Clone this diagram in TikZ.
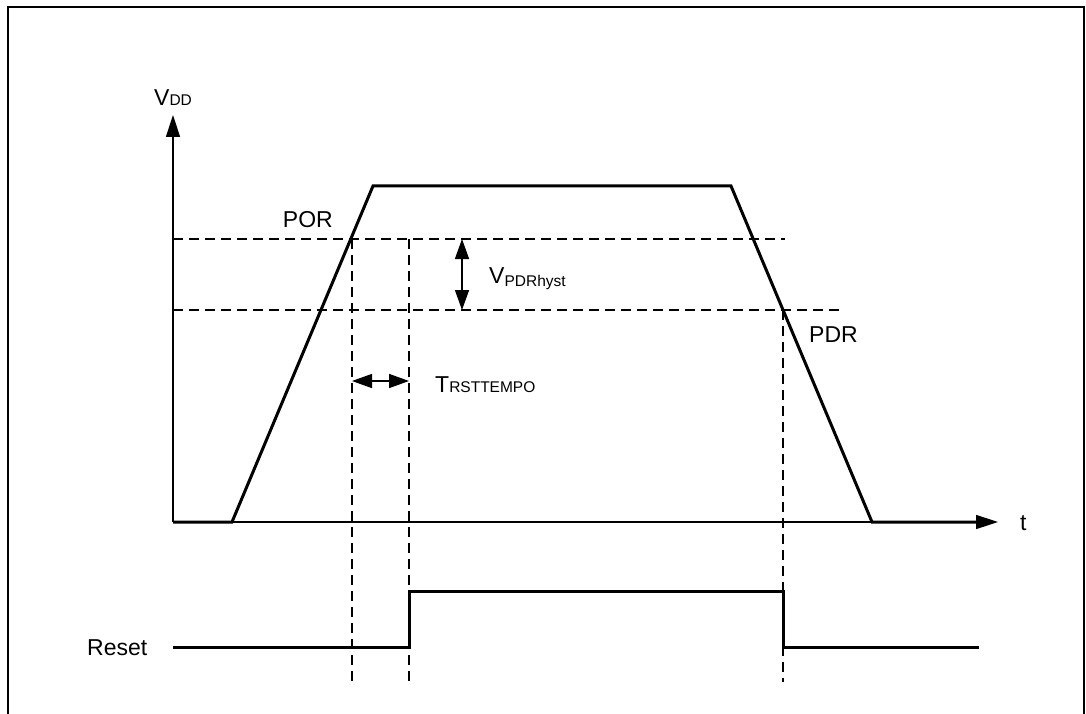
\documentclass[tikz,border=0pt]{standalone}
\usepackage{fontspec}
\setmainfont{Liberation Sans}
\usetikzlibrary{arrows.meta}
\begin{document}
\begin{tikzpicture}[x=1pt,y=-1pt,
  frame/.style={line width=2pt},
  sig/.style={line width=3pt, line join=miter},
  guide/.style={line width=1.6pt, dash pattern=on 10pt off 6pt},
  axisarrow/.style={line width=1.5pt, -{Triangle[length=22pt,width=14pt]}},
  dimarrow/.style={line width=1.5pt, {Triangle[length=20pt,width=14pt]}-{Triangle[length=20pt,width=14pt]}},
  lbl/.style={inner sep=0pt, font=\fontsize{23}{27}\selectfont},
]
\newcommand{\subtxt}[1]{{\fontsize{15.5}{18}\selectfont #1}}
\useasboundingbox (0,0) rectangle (1086,714);
% frame
\draw[frame] (8,714) -- (8,7) -- (1084,7) -- (1084,714);
% key points
\coordinate (O) at (173,522);
\coordinate (ytip) at (173,115);
\coordinate (xtip) at (998,522);
\coordinate (s1) at (232,522);
\coordinate (s2) at (373,186);
\coordinate (s3) at (731,186);
\coordinate (s4) at (872,522);
\coordinate (s5) at (976,522);
\coordinate (hpor) at (173,239);
\coordinate (hporE) at (785,239);
\coordinate (hpdr) at (173,310);
\coordinate (hpdrE) at (843,310);
\coordinate (v1t) at (352,239);
\coordinate (v1b) at (352,682);
\coordinate (v2t) at (409,239);
\coordinate (v2b) at (409,682);
\coordinate (v3t) at (783,310);
\coordinate (v3b) at (783,682);
\coordinate (hy1) at (462,239);
\coordinate (hy2) at (462,310);
\coordinate (tr1) at (352,381);
\coordinate (tr2) at (409,381);
\coordinate (r0) at (173,647);
\coordinate (r1) at (409,647);
\coordinate (r2) at (409,591);
\coordinate (r3) at (783,591);
\coordinate (r4) at (783,647);
\coordinate (r5) at (979,647);
% guides
\draw[guide] (hpor) -- (hporE);
\draw[guide] (hpdr) -- (hpdrE);
\draw[guide] (v1t) -- (v1b);
\draw[guide] (v2t) -- (v2b);
\draw[guide] (v3t) -- (v3b);
% axes
\draw[axisarrow] (O) -- (ytip);
\draw[axisarrow] (O) -- (xtip);
% VDD signal
\draw[sig] (O) -- (s1) -- (s2) -- (s3) -- (s4) -- (s5);
% dimension arrows
\draw[dimarrow] (hy1) -- (hy2);
\draw[dimarrow] (tr1) -- (tr2);
% reset signal
\draw[sig] (r0) -- (r1) -- (r2) -- (r3) -- (r4) -- (r5);
% labels
\node[lbl, anchor=base west] (vdd) at (154,106) {V\subtxt{DD}};
\node[lbl, anchor=base west] (tl) at (1020,530) {t};
\node[lbl, anchor=base east] (por) at (333,227) {POR};
\node[lbl, anchor=base west] (pdr) at (809,342) {PDR};
\node[lbl, anchor=base west] (vh) at (489,283) {V\raisebox{-3pt}{\subtxt{PDRhyst}}};
\node[lbl, anchor=base west] (trst) at (435,392) {T\subtxt{RSTTEMPO}};
\node[lbl, anchor=base west] (rst) at (87,655) {Reset};
\end{tikzpicture}
\end{document}
